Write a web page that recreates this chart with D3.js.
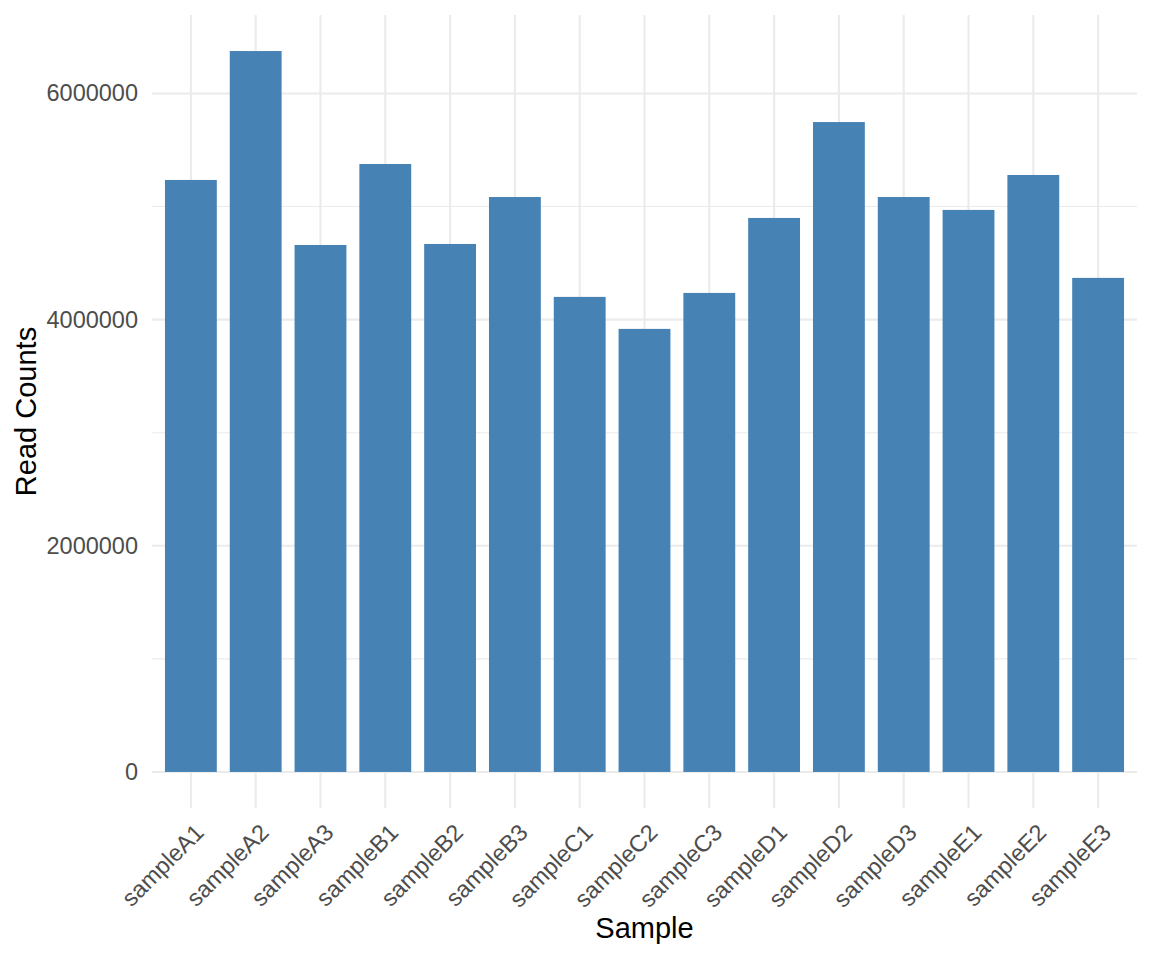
<!DOCTYPE html>
<html>
<head>
<meta charset="utf-8">
<script src="https://cdn.jsdelivr.net/npm/d3@7"></script>
<style>
  html, body { margin: 0; padding: 0; background: #ffffff; }
  svg { display: block; font-family: "Liberation Sans", Arial, sans-serif; }
</style>
</head>
<body>
<svg id="chart" width="1152" height="960"></svg>
<script>
const samples = ["sampleA1","sampleA2","sampleA3","sampleB1","sampleB2","sampleB3",
  "sampleC1","sampleC2","sampleC3","sampleD1","sampleD2","sampleD3","sampleE1","sampleE2","sampleE3"];
const readCounts = [5235000, 6375000, 4660000, 5376000, 4669000, 5084000,
  4201000, 3918000, 4236000, 4899000, 5747000, 5084000, 4970000, 5279000, 4369000];
const majorTicks = [0, 2000000, 4000000, 6000000];
const minorTicks = [1000000, 3000000, 5000000];
const xTitle = "Sample";
const yTitle = "Read Counts";

const svg = d3.select("#chart");
const panel = { left: 152, right: 1137, top: 15, bottom: 808 };

const maxV = d3.max(readCounts);
const y = d3.scaleLinear()
  .domain([-0.05 * maxV, maxV * 1.05])
  .range([panel.bottom, panel.top]);
const x = d3.scalePoint()
  .domain(samples)
  .range([panel.left, panel.right])
  .padding(0.6);
const barW = x.step() * 0.8;

const grid = svg.append("g");
// minor horizontal grid
grid.selectAll("line.minor").data(minorTicks).join("line")
  .attr("x1", panel.left).attr("x2", panel.right)
  .attr("y1", d => y(d)).attr("y2", d => y(d))
  .attr("stroke", "#ebebeb").attr("stroke-width", 1.07);
// major horizontal grid
grid.selectAll("line.majorY").data(majorTicks).join("line")
  .attr("x1", panel.left).attr("x2", panel.right)
  .attr("y1", d => y(d)).attr("y2", d => y(d))
  .attr("stroke", "#ebebeb").attr("stroke-width", 2.13);
// vertical grid
grid.append("g").selectAll("line").data(samples).join("line")
  .attr("x1", d => x(d)).attr("x2", d => x(d))
  .attr("y1", panel.top).attr("y2", panel.bottom)
  .attr("stroke", "#ebebeb").attr("stroke-width", 2.13);

// bars
svg.append("g").selectAll("rect").data(samples).join("rect")
  .attr("x", (d) => x(d) - barW / 2)
  .attr("width", barW)
  .attr("y", (d, i) => y(readCounts[i]))
  .attr("height", (d, i) => y(0) - y(readCounts[i]))
  .attr("fill", "#4682b4");

// y axis labels
const yAxis = svg.append("g")
  .attr("transform", `translate(${panel.left - 14},0)`)
  .call(d3.axisLeft(y).tickValues(majorTicks).tickSize(0).tickPadding(0).tickFormat(d3.format("d")));
yAxis.select(".domain").remove();
yAxis.selectAll("text")
  .attr("fill", "#4d4d4d")
  .attr("font-size", "23.5px")
  .attr("font-family", "Liberation Sans, Arial, sans-serif");

// x axis labels
const xAxis = svg.append("g")
  .attr("transform", `translate(0,${panel.bottom + 12})`)
  .call(d3.axisBottom(x).tickSize(0).tickPadding(0));
xAxis.select(".domain").remove();
xAxis.selectAll("text")
  .attr("fill", "#4d4d4d")
  .attr("font-size", "23.5px")
  .attr("font-family", "Liberation Sans, Arial, sans-serif")
  .attr("text-anchor", "end")
  .attr("y", 0)
  .attr("dy", "0.84em")
  .attr("transform", "rotate(-45)");

// titles
svg.append("text")
  .attr("x", (panel.left + panel.right) / 2)
  .attr("y", 938)
  .attr("text-anchor", "middle")
  .attr("font-size", "29px")
  .attr("fill", "#000000")
  .text(xTitle);

svg.append("text")
  .attr("transform", `translate(36,${(panel.top + panel.bottom) / 2}) rotate(-90)`)
  .attr("text-anchor", "middle")
  .attr("font-size", "29px")
  .attr("fill", "#000000")
  .text(yTitle);
</script>
</body>
</html>
